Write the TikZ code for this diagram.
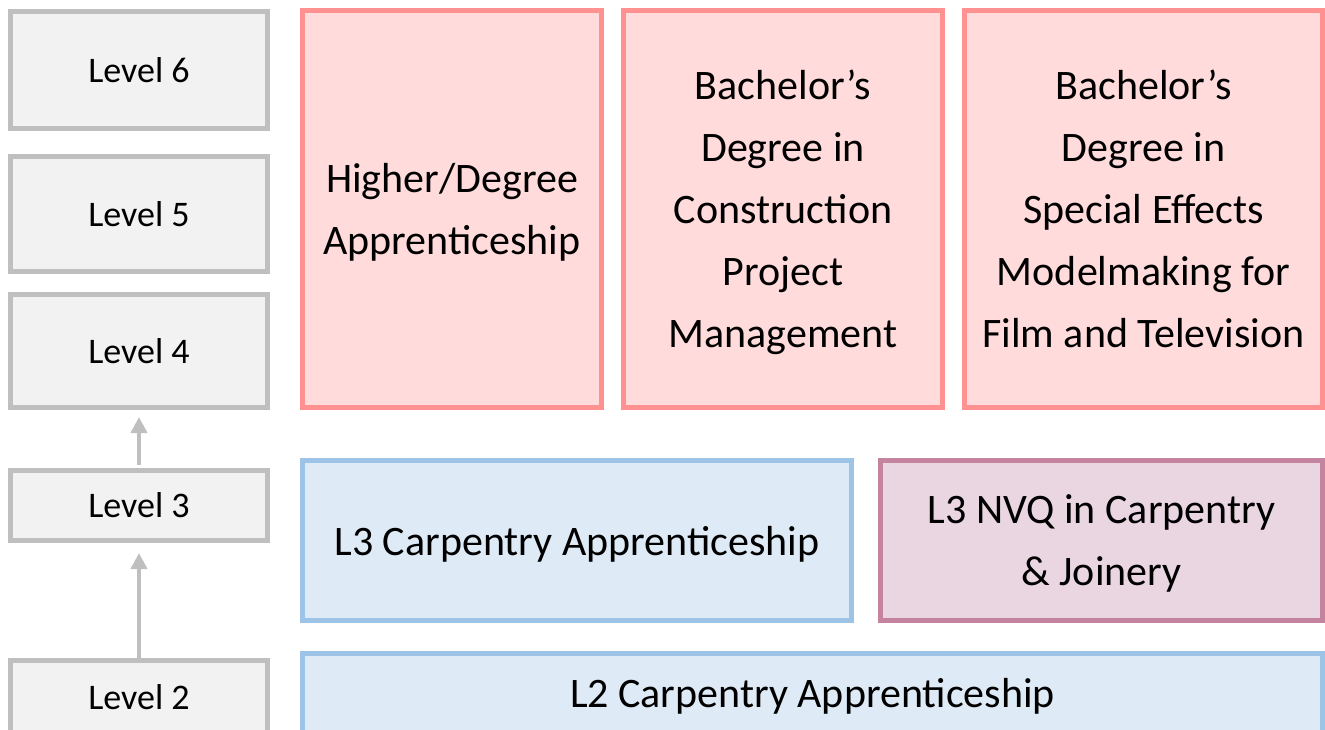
\documentclass[tikz,border=0pt]{standalone}
\usepackage{fontspec}
\setmainfont{Carlito}
\usetikzlibrary{arrows.meta}
\definecolor{lvlline}{RGB}{191,191,191}
\definecolor{lvlfill}{RGB}{242,242,242}
\definecolor{degline}{RGB}{255,145,145}
\definecolor{degfill}{RGB}{255,219,219}
\definecolor{appline}{RGB}{157,195,230}
\definecolor{appfill}{RGB}{222,235,247}
\definecolor{nvqline}{RGB}{196,132,160}
\definecolor{nvqfill}{RGB}{234,214,225}

\begin{document}
\begin{tikzpicture}[x=1pt,y=-1pt]
                \tikzstyle{levelbox} = [rectangle, minimum width=257pt, inner sep=0pt, line width=5pt, draw=lvlline, fill=lvlfill, font=\fontsize{36}{44}\selectfont]
                \tikzstyle{qualbox} = [rectangle, inner sep=0pt, text depth=0pt, line width=5pt, align=center, font=\fontsize{42}{62}\selectfont]
                \tikzstyle{degree} = [qualbox, draw=degline, fill=degfill]
                \tikzstyle{appren} = [qualbox, draw=appline, fill=appfill]
                \tikzstyle{nvq} = [qualbox, draw=nvqline, fill=nvqfill]
                \tikzstyle{arrow} = [line width=4.5pt, draw=lvlline, -{Triangle[width=16pt,length=16pt]}]
                \clip (0,0) rectangle (1325,730);

                \node (lv6) [levelbox, minimum height=117pt] at (139,70) {Level 6};
                \node (lv5) [levelbox, minimum height=115pt] at (139,214) {Level 5};
                \node (lv4) [levelbox, minimum height=113pt] at (139,351) {Level 4};
                \node (lv3) [levelbox, minimum height=70pt] at (139,505.5) {Level 3};
                \node (lv2) [levelbox, minimum height=74pt] at (139,697.5) {Level 2};

                \node (higher) [degree, minimum width=299pt, minimum height=397pt] at (452,209) {Higher/Degree\\Apprenticeship};
                \node (cpm) [degree, minimum width=319pt, minimum height=397pt] at (783,209) {Bachelor’s\\Degree in\\Construction\\Project\\Management};
                \node (sfx) [degree, minimum width=358pt, minimum height=397pt] at (1143.5,209) {Bachelor’s\\Degree in\\Special Effects\\Modelmaking for\\Film and Television};

                \node (lthree) [appren, minimum width=549pt, minimum height=160pt] at (577,540.5) {L3 Carpentry Apprenticeship};
                \node (nvq) [nvq, minimum width=442pt, minimum height=160pt] at (1101.5,540.5) {L3 NVQ in Carpentry\\\& Joinery};
                \node (ltwo) [appren, minimum width=1020pt, minimum height=79pt] at (812.5,693) {L2 Carpentry Apprenticeship};

                \draw [arrow, shorten <=3pt, shorten >=7pt] (lv3) -- (lv4);
                \draw [arrow, shorten >=10pt] (lv2) -- (lv3);
\end{tikzpicture}
\end{document}
